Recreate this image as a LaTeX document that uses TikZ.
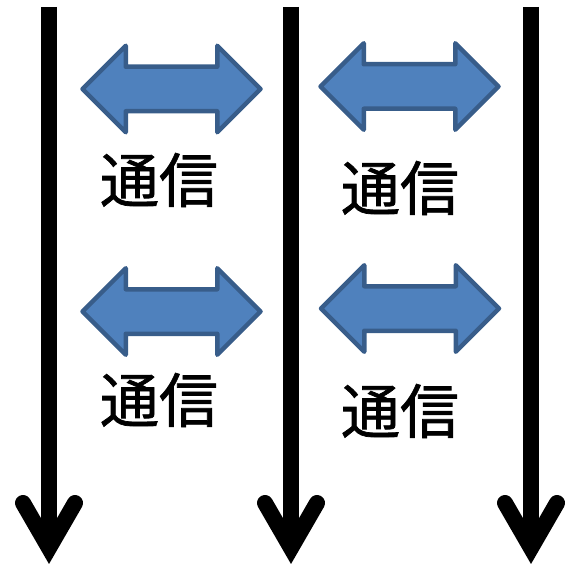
\documentclass[tikz,border=0pt]{standalone}
\usepackage{fontspec}
\newfontfamily\jpfont[FakeBold=1.2]{Noto Sans CJK JP}
\usepackage{tikz}
\usetikzlibrary{shapes.arrows,positioning}
\definecolor{linkfill}{HTML}{4F81BD}
\definecolor{linkedge}{HTML}{385D8A}
\tikzset{
  lane/.style={line width=16pt, black},
  lanehead/.style={line width=16pt, black, line cap=round, line join=miter},
  link/.style={
    double arrow, draw=linkedge, fill=linkfill, line width=4.5pt,
    line join=round, inner xsep=0pt, inner ysep=20pt,
    minimum height=178pt,
    double arrow head extend=21pt, double arrow tip angle=90
  },
  linklabel/.style={font=\jpfont\fontsize{59}{61}\selectfont, inner sep=0pt},
}

\begin{document}
\begin{tikzpicture}[x=1pt, y=-1pt]
  \useasboundingbox (0,0) rectangle (566,567);
  % three time lines, top to bottom
  \foreach \i/\x in {1/49, 2/291, 3/531} {
    \coordinate (top\i) at (\x,7);
    \coordinate (bot\i) at (\x,548);
    \draw[lane] (top\i) -- (bot\i);
    \draw[lanehead] ([shift={(-26,-45)}]bot\i) -- (bot\i) -- ([shift={(26,-45)}]bot\i);
  }
  % exchanges between neighbouring lines
  \node[link] (link1) at (171.5,89) {};
  \node[link] (link2) at (409.5,86.5) {};
  \node[link] (link3) at (171.5,311.5) {};
  \node[link] (link4) at (410,308.5) {};
  \node[linklabel] (lbl1) at (159,180) {通信};
  \node[linklabel] (lbl2) at (400,188) {通信};
  \node[linklabel] (lbl3) at (159,400) {通信};
  \node[linklabel] (lbl4) at (400,411) {通信};
\end{tikzpicture}
\end{document}
